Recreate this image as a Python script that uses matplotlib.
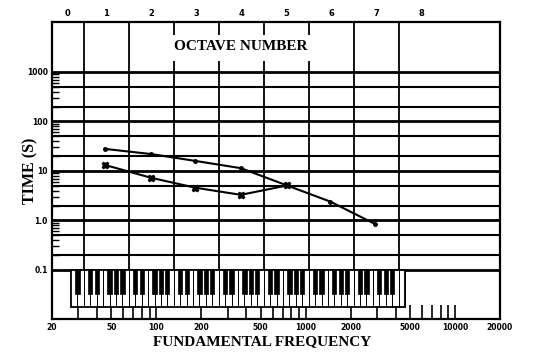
import numpy as np
import matplotlib
matplotlib.use("Agg")
import matplotlib.pyplot as plt
from matplotlib.patches import Rectangle
from matplotlib.ticker import FixedLocator, NullFormatter, FixedFormatter

# ---------------- data ----------------
freq_upper = [45, 92, 182, 368, 750, 1465, 2890]
time_upper = [28, 22, 16, 11.4, 5.1, 2.4, 0.86]
freq_lower = [45, 92, 182, 368, 750]
time_lower = [13.3, 7.3, 4.6, 3.3, 5.1]

x_tick_values = [20, 50, 100, 200, 500, 1000, 2000, 5000, 10000, 20000]
x_tick_labels = ["20", "50", "100", "200", "500", "1000", "2000", "5000", "10000", "20000"]
y_tick_values = [0.1, 1, 10, 100, 1000]
y_tick_labels = ["0.1", "1.0", "10", "100", "1000"]
octave_numbers = [0, 1, 2, 3, 4, 5, 6, 7, 8]
C0 = 16.352

# ---------------- figure ----------------
fig = plt.figure(figsize=(5.4, 3.62), dpi=100)
ax = fig.add_axes([52 / 540, 43 / 362, 448 / 540, 297 / 362])
ax.set_xscale("log")
ax.set_yscale("log")
YMIN, YMAX = 10 ** -1.99, 10 ** 4.01
ax.set_xlim(20, 20000)
ax.set_ylim(YMIN, YMAX)

for s in ax.spines.values():
    s.set_linewidth(1.6)
    s.set_color("black")

# horizontal grid lines
for k in range(-1, 3):
    for m in (1, 2, 5):
        v = m * 10.0 ** k
        ax.axhline(v, color="black", lw=2.0 if m == 1 else 1.5, zorder=1)
ax.axhline(1000, color="black", lw=2.0, zorder=1)

# vertical octave lines at C notes
for n in range(1, 9):
    c = C0 * 2 ** n
    if n in (1, 2, 7, 8):
        ax.vlines(c, 0.1, YMAX, color="black", lw=1.3, zorder=1)
    else:
        ax.vlines(c, 0.1, 1700, color="black", lw=1.3, zorder=1)
        ax.vlines(c, 5600, YMAX, color="black", lw=1.3, zorder=1)

# octave numbers
for n in octave_numbers:
    lo = max(C0 * 2 ** n, 20)
    hi = C0 * 2 ** (n + 1)
    ax.text(np.sqrt(lo * hi), 1.012, str(n), transform=ax.get_xaxis_transform(),
            ha="center", va="bottom", fontsize=6, fontweight="bold")

ax.text(370, 0.916, "OCTAVE NUMBER", transform=ax.get_xaxis_transform(),
        ha="center", va="center", fontsize=11, fontweight="bold",
        family="Liberation Serif")

# piano keyboard
piano_top = 0.1
piano_bottom = 10 ** -1.747
black_bottom = 10 ** -1.485
left = C0 * 2 * 2 ** (-2 / 7)
names = ["A", "B", "C", "D", "E", "F", "G"]
n_white = 52
right = left * 2 ** (n_white / 7)
ax.add_patch(Rectangle((left, piano_bottom), right - left, piano_top - piano_bottom,
                       facecolor="white", edgecolor="black", lw=1.3, zorder=3))
for i in range(n_white):
    x1 = left * 2 ** ((i + 1) / 7)
    ax.vlines(x1, piano_bottom, piano_top, color="black", lw=0.7, zorder=4)
    if names[i % 7] in ("C", "D", "F", "G", "A") and i < n_white - 1:
        b0 = x1 * 2 ** (-0.33 / 7)
        b1 = x1 * 2 ** (0.33 / 7)
        ax.add_patch(Rectangle((b0, black_bottom), b1 - b0, piano_top - black_bottom,
                               facecolor="black", edgecolor="black", lw=0.5, zorder=5))

# data series
ax.plot(freq_upper, time_upper, color="black", lw=1.5, marker="o", ms=2.5, zorder=6)
ax.plot(freq_lower, time_lower, color="black", lw=1.5, marker="X", ms=4.5, zorder=6)

# x ticks
ax.xaxis.set_major_locator(FixedLocator(x_tick_values))
ax.xaxis.set_major_formatter(FixedFormatter(x_tick_labels))
minor_x = [m * 10 ** k for k in (1, 2, 3) for m in range(2, 10)
           if 20 < m * 10 ** k < 20000 and m * 10 ** k not in x_tick_values]
ax.xaxis.set_minor_locator(FixedLocator(minor_x))
ax.xaxis.set_minor_formatter(NullFormatter())
ax.tick_params(axis="x", which="both", direction="in", length=10, width=1.2,
               top=False, pad=3, labelsize=5.5)
for lab in ax.get_xticklabels():
    lab.set_fontweight("bold")

# y ticks
ax.yaxis.set_major_locator(FixedLocator(y_tick_values))
ax.yaxis.set_major_formatter(FixedFormatter(y_tick_labels))
minor_y = [m * 10.0 ** k for k in range(-1, 3) for m in range(2, 10)]
ax.yaxis.set_minor_locator(FixedLocator(minor_y))
ax.yaxis.set_minor_formatter(NullFormatter())
ax.tick_params(axis="y", which="major", length=0, pad=3, labelsize=5.5)
ax.tick_params(axis="y", which="minor", direction="in", length=5, width=1.0, right=False)
for lab in ax.get_yticklabels():
    lab.set_fontweight("bold")

fig.text(262 / 540, 1 - 342 / 362, "FUNDAMENTAL FREQUENCY", ha="center", va="center",
         fontsize=11, fontweight="bold", family="Liberation Serif")
fig.text(30 / 540, 1 - 171 / 362, "TIME (S)", ha="center", va="center", rotation=90,
         fontsize=11.5, fontweight="bold", family="Liberation Serif")

fig.savefig("out.png", dpi=100, facecolor="white")
